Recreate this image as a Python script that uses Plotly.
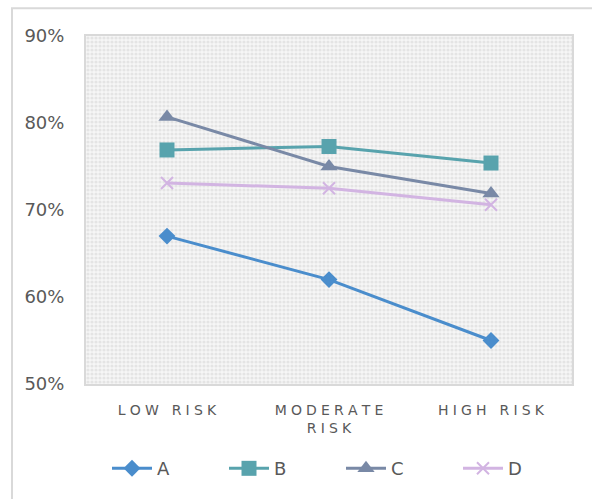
import plotly.graph_objects as go

# Risk categories (x axis)
categories = ["LOW RISK", "MODERATE RISK", "HIGH RISK"]
category_labels = ["LOW RISK", "MODERATE<br>RISK", "HIGH RISK"]

# Share per series, in percent
series_names = ["A", "B", "C", "D"]
values_a = [67.0, 62.0, 55.0]
values_b = [76.9, 77.3, 75.4]
values_c = [80.7, 75.0, 71.9]
values_d = [73.1, 72.5, 70.6]

y_ticks = [50, 60, 70, 80, 90]
y_tick_labels = ["50%", "60%", "70%", "80%", "90%"]

colors = ["#4a8dcc", "#58a3ad", "#7989a6", "#d2b4e2"]
symbols = ["diamond", "square", "triangle-up", "x-thin"]
sizes = [13, 15, 15, 12]


def spaced(text):
    # widen letter spacing with thin + hair spaces between characters
    parts = text.split("<br>")
    return "<br>".join("\u2009\u200a".join(p) for p in parts)


x_pos = list(range(len(categories)))

fig = go.Figure()

# Dotted background of the plot area
fig.add_trace(go.Scatter(
    x=[-0.5, 2.5, 2.5, -0.5, -0.5], y=[50, 50, 90, 90, 50],
    mode="none", fill="toself", fillcolor="rgba(0,0,0,0)",
    fillpattern=dict(shape=".", size=4, solidity=0.5,
                     fgcolor="#d2d2d2", bgcolor="#f6f6f6"),
    hoverinfo="skip", showlegend=False,
))

for name, vals, col, sym, sz in zip(series_names,
                                    [values_a, values_b, values_c, values_d],
                                    colors, symbols, sizes):
    fig.add_trace(go.Scatter(
        x=x_pos, y=vals, name=name, mode="lines+markers",
        line=dict(color=col, width=3),
        marker=dict(symbol=sym, size=sz, color=col,
                    line=dict(color=col, width=2 if sym == "x-thin" else 0)),
    ))

fig.update_layout(
    width=592, height=499,
    margin=dict(l=86, r=20, t=36, b=113),
    paper_bgcolor="white", plot_bgcolor="white",
    font=dict(family="DejaVu Sans", color="#595959"),
    showlegend=True,
    legend=dict(orientation="h", x=0.5 + 12 / 486, xanchor="center", xref="paper",
                y=-0.19, yanchor="top", font=dict(size=18, color="#595959"),
                entrywidth=62, itemwidth=40, traceorder="normal"),
    shapes=[
        dict(type="rect", xref="paper", yref="paper",
             x0=-74 / 486, x1=1.2, y0=-0.5, y1=1 + 28 / 350,
             line=dict(color="#d9d9d9", width=2), layer="below"),
    ],
)

fig.update_xaxes(
    range=[-0.5, 2.5], tickvals=x_pos,
    ticktext=[spaced(t) for t in category_labels],
    tickfont=dict(size=14, color="#595959"),
    showgrid=False, zeroline=False, automargin=False,
    showline=True, linecolor="#d9d9d9", linewidth=2, mirror=True,
    ticks="", ticklabelstandoff=12,
    minor=dict(tick0=0.5, dtick=1, showgrid=True, gridcolor="#d9d9d9", gridwidth=2),
)
fig.update_yaxes(
    range=[50, 90], tickvals=y_ticks, ticktext=y_tick_labels,
    tickfont=dict(size=18, color="#595959"),
    showgrid=True, gridcolor="#d9d9d9", gridwidth=2, zeroline=False,
    automargin=False,
    showline=True, linecolor="#d9d9d9", linewidth=2, mirror=True,
    ticks="", ticklabelstandoff=16,
)

fig.write_html("out.html")
